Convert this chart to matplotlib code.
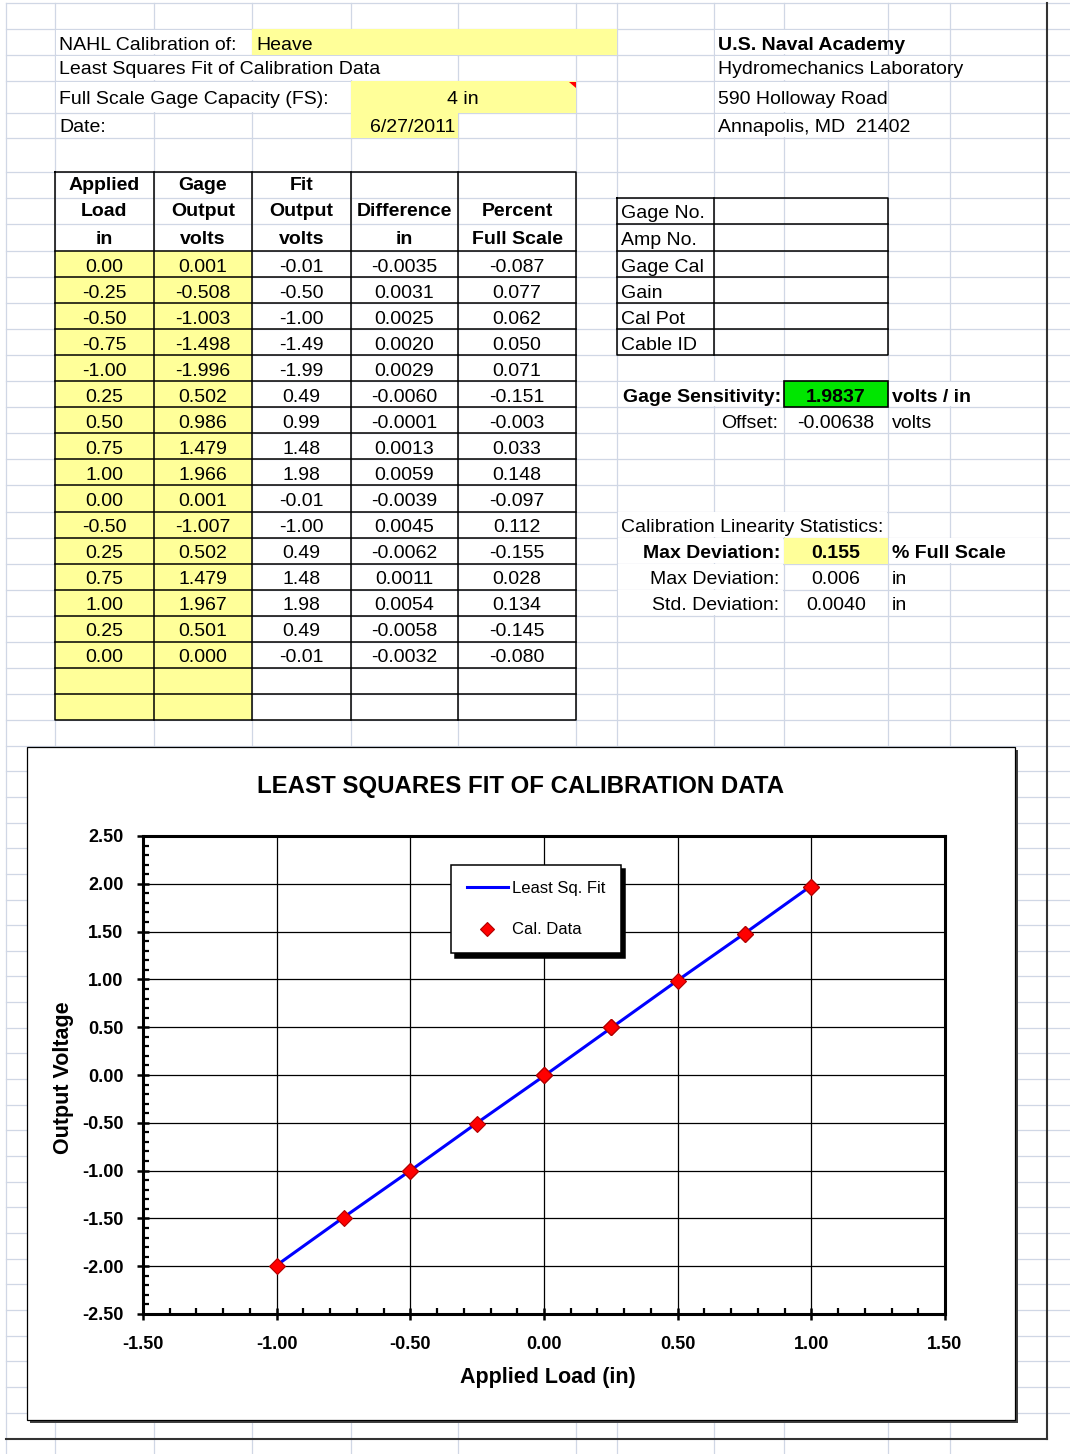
import matplotlib
matplotlib.use('Agg')
import matplotlib.pyplot as plt
from matplotlib.patches import Rectangle, Polygon
from matplotlib.ticker import MultipleLocator

plt.rcParams['font.family'] = ['Liberation Sans', 'DejaVu Sans']

# ---------------- data ----------------
calibration_of = "Heave"
full_scale_capacity = 4
full_scale_unit = "in"
cal_date = "6/27/2011"

applied_load = [0.00, -0.25, -0.50, -0.75, -1.00, 0.25, 0.50, 0.75, 1.00,
                0.00, -0.50, 0.25, 0.75, 1.00, 0.25, 0.00]
gage_output = [0.001, -0.508, -1.003, -1.498, -1.996, 0.502, 0.986, 1.479, 1.966,
               0.001, -1.007, 0.502, 1.479, 1.967, 0.501, 0.000]
fit_output = [-0.01, -0.50, -1.00, -1.49, -1.99, 0.49, 0.99, 1.48, 1.98,
              -0.01, -1.00, 0.49, 1.48, 1.98, 0.49, -0.01]
difference = [-0.0035, 0.0031, 0.0025, 0.0020, 0.0029, -0.0060, -0.0001, 0.0013, 0.0059,
              -0.0039, 0.0045, -0.0062, 0.0011, 0.0054, -0.0058, -0.0032]
percent_full_scale = [-0.087, 0.077, 0.062, 0.050, 0.071, -0.151, -0.003, 0.033, 0.148,
                      -0.097, 0.112, -0.155, 0.028, 0.134, -0.145, -0.080]

header_lines = [["Applied", "Load", "in"], ["Gage", "Output", "volts"],
                ["Fit", "Output", "volts"], ["", "Difference", "in"],
                ["", "Percent", "Full Scale"]]

gage_info_labels = ["Gage No.", "Amp No.", "Gage Cal", "Gain", "Cal Pot", "Cable ID"]
address_lines = ["U.S. Naval Academy", "Hydromechanics Laboratory",
                 "590 Holloway Road", "Annapolis, MD  21402"]

gage_sensitivity = 1.9837
offset_volts = -0.00638
max_dev_pct_fs = 0.155
max_dev_in = 0.006
std_dev_in = 0.0040

chart_title = "LEAST SQUARES FIT OF CALIBRATION DATA"
x_label = "Applied Load (in)"
y_label = "Output Voltage"
x_ticks = [-1.50, -1.00, -0.50, 0.00, 0.50, 1.00, 1.50]
y_ticks = [-2.50, -2.00, -1.50, -1.00, -0.50, 0.00, 0.50, 1.00, 1.50, 2.00, 2.50]

# ---------------- layout ----------------
W, H = 1070, 1454
fig = plt.figure(figsize=(W / 100, H / 100), dpi=100)
bg = fig.add_axes([0, 0, 1, 1])
bg.set_xlim(0, W)
bg.set_ylim(H, 0)
bg.axis('off')

GRID = '#D0D7E5'
YELLOW = '#FFFF99'
GREEN = '#00E600'
FS = 14
DY = 3.0  # text baseline nudge (Excel bottom-aligned cells)

col_x = [6, 55, 154, 252, 351, 458, 576, 617, 714, 784, 888, 950]
row_y = [3, 29, 55, 81, 113, 138, 172, 198, 224]
y = 251.0
while y < 721:
    row_y.append(y)
    y += 26.05
y = 720 + 25.65
while y < 1430:
    row_y.append(y)
    y += 25.65

data_rows = [251 + 26.05 * k for k in range(19)]

# gridlines
for cx in col_x:
    bg.plot([cx, cx], [3, H], color=GRID, lw=0.9, zorder=1)
for ry in row_y:
    bg.plot([6, W], [ry, ry], color=GRID, lw=0.9, zorder=1)


def rect(x0, y0, x1, y1, fc='white', ec='none', lw=0, z=2):
    bg.add_patch(Rectangle((x0, y0), x1 - x0, y1 - y0, facecolor=fc,
                           edgecolor=ec, linewidth=lw, zorder=z))


def cover(x0, y0, x1, y1):
    rect(x0 + 0.8, y0 + 0.8, x1 - 0.8, y1 - 0.8, z=2)


def txt(x, y, s, ha='left', bold=False, size=FS, z=6):
    bg.text(x, y + DY, s, ha=ha, va='center', fontsize=size,
            fontweight='bold' if bold else 'normal', zorder=z, color='black')


# overflow text covers
cover(55, 29, 252, 55)
cover(55, 55, 458, 81)
cover(55, 81, 351, 113)
cover(714, 29, 888, 55)
cover(714, 55, 950, 81)
cover(714, 81, 888, 113)
cover(714, 113, 888, 138)
cover(617, data_rows[5], 784, data_rows[6])
cover(888, data_rows[5], 1047, data_rows[6])
cover(617, data_rows[10], 888, data_rows[11])
for k in (11, 12, 13):
    cover(617, data_rows[k], 784, data_rows[k + 1])
cover(888, data_rows[11], 1047, data_rows[12])

# yellow / green cells
rect(252, 29, 617, 55, fc=YELLOW, z=3)
rect(351, 81, 576, 113, fc=YELLOW, z=3)
rect(351, 113, 458, 138, fc=YELLOW, z=3)
rect(55, 251, 252, 720, fc=YELLOW, z=3)
rect(784, data_rows[11], 888, data_rows[12], fc=YELLOW, z=3)
rect(784, data_rows[5], 888, data_rows[6], fc=GREEN, ec='black', lw=1.2, z=4)
bg.add_patch(Polygon([[569, 81.5], [575.5, 81.5], [575.5, 88]], closed=True,
                     facecolor='red', edgecolor='none', zorder=5))

# header texts
txt(59, 42, "NAHL Calibration of:")
txt(256, 42, calibration_of)
txt(59, 67, "Least Squares Fit of Calibration Data")
txt(59, 96, "Full Scale Gage Capacity (FS):")
txt(463, 96, f"{full_scale_capacity} {full_scale_unit}", ha='center')
txt(59, 124, "Date:")
txt(455, 124, cal_date, ha='right')
for i, line in enumerate(address_lines):
    txt(718, [42, 67, 96, 124][i], line, bold=(i == 0))

# main table
TB = dict(color='black', lw=1.1, zorder=5)
tcols = [55, 154, 252, 351, 458, 576]
bg.plot([55, 576, 576, 55, 55], [172, 172, 720, 720, 172], **TB)
for cx in tcols[1:-1]:
    bg.plot([cx, cx], [172, 720], **TB)
for k in range(18):
    bg.plot([55, 576], [data_rows[k], data_rows[k]], **TB)
hdr_y = [183, 209, 236]
for c, lines in enumerate(header_lines):
    xc = (tcols[c] + tcols[c + 1]) / 2
    for j, s in enumerate(lines):
        if s:
            txt(xc, hdr_y[j], s, ha='center', bold=True)
columns = [(applied_load, "{:.2f}"), (gage_output, "{:.3f}"), (fit_output, "{:.2f}"),
           (difference, "{:.4f}"), (percent_full_scale, "{:.3f}")]
for c, (vals, fmt) in enumerate(columns):
    xc = (tcols[c] + tcols[c + 1]) / 2
    for k, v in enumerate(vals):
        yc = (data_rows[k] + data_rows[k + 1]) / 2
        txt(xc, yc, fmt.format(v), ha='center')

# gage info table
g_rows = [198, 224] + data_rows[:5]
bg.plot([617, 888, 888, 617, 617], [198, 198, g_rows[-1], g_rows[-1], 198], **TB)
bg.plot([714, 714], [198, g_rows[-1]], **TB)
for gy in g_rows[1:-1]:
    bg.plot([617, 888], [gy, gy], **TB)
for k, lab in enumerate(gage_info_labels):
    txt(621, (g_rows[k] + g_rows[k + 1]) / 2, lab)


def rc(k):
    return (data_rows[k] + data_rows[k + 1]) / 2


txt(781, rc(5), "Gage Sensitivity:", ha='right', bold=True)
txt(836, rc(5), f"{gage_sensitivity:.4f}", ha='center', bold=True)
txt(892, rc(5), "volts / in", bold=True)
txt(778, rc(6), "Offset:", ha='right')
txt(836, rc(6), f"{offset_volts:.5f}", ha='center')
txt(892, rc(6), "volts")
txt(621, rc(10), "Calibration Linearity Statistics:")
txt(780, rc(11), "Max Deviation:", ha='right', bold=True)
txt(836, rc(11), f"{max_dev_pct_fs:.3f}", ha='center', bold=True)
txt(892, rc(11), "% Full Scale", bold=True)
txt(779, rc(12), "Max Deviation:", ha='right')
txt(836, rc(12), f"{max_dev_in:.3f}", ha='center')
txt(892, rc(12), "in")
txt(779, rc(13), "Std. Deviation:", ha='right')
txt(836, rc(13), f"{std_dev_in:.4f}", ha='center')
txt(892, rc(13), "in")

# page break lines
bg.plot([1047, 1047], [3, 1439], color='#333333', lw=1.5, zorder=5)
bg.plot([6, 1047], [1439, 1439], color='#333333', lw=1.5, zorder=5)

# chart box
rect(30, 750, 1018, 1423, fc='#404040', z=7)
rect(27, 747, 1015, 1420, fc='white', ec='black', lw=0.9, z=8)
bg.text(521, 786, chart_title, ha='center', va='center', fontsize=17.3,
        fontweight='bold', zorder=9)
bg.text(548, 1378, x_label, ha='center', va='center', fontsize=15.5,
        fontweight='bold', zorder=9)
bg.text(63, 1078, y_label, ha='center', va='center', fontsize=15.5,
        fontweight='bold', rotation=90, zorder=9)

# ---------------- chart ----------------
L, R, T, B = 143, 945, 836, 1314
ax = fig.add_axes([L / W, 1 - B / H, (R - L) / W, (B - T) / H])
ax.set_xlim(-1.5, 1.5)
ax.set_ylim(-2.5, 2.5)
ax.set_facecolor('white')

fit_pairs = sorted(set(zip(applied_load, fit_output)))
fx = [p[0] for p in fit_pairs]
fy = [p[1] for p in fit_pairs]
ax.plot(fx, fy, color='#0000FF', lw=2.2, label='Least Sq. Fit', zorder=3)
ax.plot(applied_load, gage_output, ls='none', marker='D', ms=7.8,
        mfc='#FF0000', mec='#B00000', mew=0.8, label='Cal. Data', zorder=4)

ax.set_xticks(x_ticks, labels=[f"{v:.2f}" for v in x_ticks],
              fontsize=13, fontweight='bold')
ax.set_yticks(y_ticks, labels=[f"{v:.2f}" for v in y_ticks],
              fontsize=13, fontweight='bold')
ax.xaxis.set_minor_locator(MultipleLocator(0.1))
ax.yaxis.set_minor_locator(MultipleLocator(0.1))
ax.tick_params(which='major', direction='inout', length=8, width=1.8,
               color='black')
ax.tick_params(axis='x', which='major', pad=12)
ax.tick_params(axis='y', which='major', pad=10)
ax.tick_params(which='minor', direction='in', length=4, width=1.6, color='black')
ax.grid(True, which='major', color='black', lw=0.9)
ax.set_axisbelow(True)
for sp in ax.spines.values():
    sp.set_linewidth(2.2)
    sp.set_color('black')

leg = ax.legend(loc='upper left', bbox_to_anchor=(451 / W, 1 - 865 / H),
                bbox_transform=fig.transFigure, borderaxespad=0,
                fontsize=12, frameon=True, fancybox=False,
                shadow={'ox': 3, 'oy': -3, 'color': 'black', 'alpha': 1},
                labelspacing=1.6, handlelength=2.45, handletextpad=0.25,
                borderpad=0.95, numpoints=1, markerscale=0.85)
leg.get_frame().set_edgecolor('black')
leg.get_frame().set_linewidth(1.1)
leg.get_frame().set_facecolor('white')
leg.get_frame().set_alpha(1)

fig.savefig('out.png', dpi=100)
